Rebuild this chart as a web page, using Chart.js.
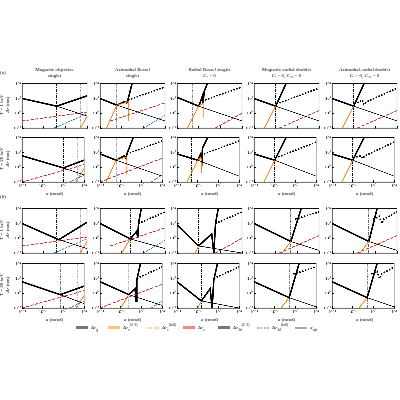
<!DOCTYPE html>
<html><head><meta charset="utf-8">
<script src="https://cdn.jsdelivr.net/npm/chart.js@4"></script>
<style>
body{margin:0;background:#fff;font-family:"Liberation Serif",serif;}
#wrap{position:relative;width:400px;height:400px;}
canvas{position:absolute;}
.t{position:absolute;font-size:5px;text-align:center;line-height:5.5px;color:#000;white-space:nowrap;}
.yl{position:absolute;font-size:5px;transform:rotate(-90deg);transform-origin:center;text-align:center;line-height:5.5px;white-space:nowrap;}
.lg{position:absolute;font-size:5px;line-height:6px;white-space:nowrap;}
.lg sub,.lg sup{font-size:3.5px;line-height:0;}
.sw{display:inline-block;width:12px;height:0;vertical-align:middle;margin-right:3px;}
</style></head><body><div id="wrap"></div>
<script>
const columnTitles=["Magnetic objective|singlet","Azimuthal Bessel|singlet","Radial Bessel singlet|C\u1D63 = 0","Magnetic–radial doublet|C\u1D63 = 0,  C\u2083\u2083 = 0","Azimuthal–radial doublet|C\u1D63 = 0,  C\u2083\u2083 = 0"];
const rowLabels=["T = 1 keV","T = 20 keV","T = 1 keV","T = 20 keV"];
const xTicks=[0.01,0.1,1,10];
const yTicks=[0.1,1,10,100];
const thick=[
 [[0.01,10],[0.4,3],[10,15]],[[0.01,10],[0.06,3.5],[0.13,6],[0.17,5],[0.19,7],[0.3,100]],[[0.01,12],[0.1,3],[0.13,8],[0.15,15],[0.16,5],[0.18,30],[0.25,100]],[[0.01,10],[0.1,3],[0.3,100]],[[0.01,10],[0.1,3],[0.3,100]],
 [[0.01,6],[1,0.9],[10,3]],[[0.01,8],[0.06,3],[0.15,6],[0.18,4],[0.2,8],[0.4,100]],[[0.01,8],[0.1,3],[0.14,8],[0.16,3],[0.17,20],[0.3,100]],[[0.01,8],[0.1,3],[0.35,100]],[[0.01,8],[0.1,3],[0.35,100]],
 [[0.01,10],[0.5,0.8],[10,12]],[[0.01,10],[0.25,0.9],[0.5,3],[0.55,1],[0.6,10],[0.8,100]],[[0.01,8],[0.1,0.3],[0.4,2],[0.5,0.1],[0.6,10],[0.8,100]],[[0.01,10],[0.5,0.6],[1.5,100]],[[0.01,10],[0.5,0.6],[1.2,100]],
 [[0.01,6],[0.7,0.8],[10,3]],[[0.01,6],[0.25,0.8],[0.5,2],[0.55,0.3],[0.6,8],[0.9,100]],[[0.01,6],[0.15,0.3],[0.4,2],[0.5,0.1],[0.6,8],[0.9,100]],[[0.01,6],[0.5,0.5],[1.5,100]],[[0.01,6],[0.5,0.5],[1.5,100]]
];
const thin=[
 [[0.4,3],[10,0.65]],[[0.06,3.5],[10,0.3]],[[0.1,3],[10,0.3]],[[0.1,3],[10,0.3]],[[0.1,3],[10,0.3]],
 [[1,0.9],[10,0.3]],[[0.06,3],[10,0.25]],[[0.1,3],[10,0.25]],[[0.1,3],[10,0.25]],[[0.1,3],[10,0.25]],
 [[0.5,0.8],[10,0.2]],[[0.25,0.9],[10,0.2]],[[0.1,0.3],[10,0.1]],[[0.5,0.6],[10,0.15]],[[0.5,0.6],[10,0.15]],
 [[0.7,0.8],[10,0.2]],[[0.25,0.8],[10,0.15]],[[0.15,0.3],[10,0.1]],[[0.5,0.5],[10,0.12]],[[0.5,0.5],[10,0.12]]
];
const orange=[
 [[5,0.1],[10,0.6]],[[0.02,0.1],[0.06,3.5],[0.2,6],[0.2,0.3]],[[0.03,0.1],[0.1,3],[0.16,5],[0.16,0.5]],[[0.03,0.1],[0.1,3]],[[0.03,0.1],[0.1,3]],
 [[4,0.1],[10,0.8]],[[0.02,0.1],[0.06,3],[0.2,5],[0.2,0.3]],[[0.03,0.1],[0.1,3],[0.15,4],[0.15,0.4]],[[0.03,0.1],[0.1,3]],[[0.03,0.1],[0.1,3]],
 [[5,0.1],[10,0.6]],[[0.1,0.1],[0.25,0.9]],[[0.07,0.1],[0.1,0.3]],[[0.2,0.1],[0.5,0.6]],[[0.2,0.1],[0.5,0.6]],
 [[4,0.1],[10,0.7]],[[0.1,0.1],[0.25,0.8]],[[0.1,0.1],[0.15,0.3]],[[0.2,0.1],[0.5,0.5]],[[0.2,0.1],[0.5,0.5]]
];
const dotted=[
 [],[[0.2,8],[10,60]],[[0.2,8],[10,60]],[[0.15,5],[10,50]],[[0.15,5],[0.25,8],[0.3,4],[0.4,6],[10,50]],
 [],[[0.2,8],[10,60]],[[0.2,8],[10,60]],[[0.15,5],[10,50]],[[0.15,5],[0.25,6],[0.3,4],[0.4,6],[10,50]],
 [],[[0.6,10],[10,60]],[[0.6,10],[10,60]],[[0.8,20],[10,60]],[[0.8,20],[1.5,30],[2,10],[2.5,20],[10,60]],
 [],[[0.6,10],[10,60]],[[0.6,10],[10,60]],[[0.8,20],[10,60]],[[0.8,20],[1.5,30],[2,10],[2.5,20],[10,60]]
];
const red=[
 [[0.01,0.3],[10,1.2]],[[0.03,0.3],[10,5]],[[0.6,0.1],[10,1]],[[0.15,0.1],[10,1.5]],[[0.15,0.1],[10,1.5]],
 [[0.01,0.1],[10,1.5]],[[0.01,0.1],[10,4]],[],[],[],
 [[0.01,0.3],[10,1.2]],[[0.03,0.3],[10,5]],[[0.6,0.1],[10,1]],[[0.15,0.1],[10,1.5]],[[0.15,0.1],[10,1.5]],
 [[0.01,0.1],[10,1.5]],[[0.01,0.1],[10,4]],[],[],[]
];
const blue=[
 [[0.3,0.1],[10,0.9]],[[1,0.1],[10,0.7]],[],[],[],
 [[2,0.1],[10,0.3]],[[3,0.1],[10,0.3]],[],[],[],
 [[0.3,0.1],[10,0.9]],[[1,0.1],[10,0.7]],[],[],[],
 [[2,0.1],[10,0.3]],[[3,0.1],[10,0.3]],[],[],[]
];
const vlineBlack=[0.4,0.06,0.05,0.1,0.1, 1,0.06,0.05,0.1,0.1, 0.4,0.25,0.1,0.5,0.5, 0.7,0.25,0.15,0.5,0.5];
const vlineGray=[5,null,null,null,null, 5,null,null,null,null, 5,null,null,null,null, 5,null,null,null,null];

const colLeft=[22,100,177,254,332], rowTop=[80,134,205,260], W=65, H=48;
const wrap=document.getElementById('wrap');
const sup={"-":"\u207B","0":"\u2070","1":"\u00B9","2":"\u00B2"};
function pw(v){const e=Math.round(Math.log10(v));return "10"+String(e).split("").map(c=>sup[c]).join("");}
function pts(a){return a.map(p=>({x:p[0],y:p[1]}));}
function add(html,cls,x,y,extra){const d=document.createElement('div');d.className=cls;d.innerHTML=html;d.style.left=x+'px';d.style.top=y+'px';if(extra)Object.assign(d.style,extra);wrap.appendChild(d);}

for(let r=0;r<4;r++)for(let c=0;c<5;c++){
 const p=r*5+c;
 const cv=document.createElement('canvas');
 cv.style.left=(colLeft[c]-20)+'px';cv.style.top=(rowTop[r]-2)+'px';
 cv.style.width=(W+23)+'px';cv.style.height=(H+14)+'px';
 wrap.appendChild(cv);
 const ds=[];
 const L=(d,col,w,dash)=>{if(d.length)ds.push({data:pts(d),borderColor:col,borderWidth:w,borderDash:dash||[],pointRadius:0,fill:false});};
 L(thin[p],'#000',0.7);
 L(red[p],'#d62728',0.9,[3,1.5]);
 L(blue[p],'#1f77b4',0.8,[2,1]);
 L(orange[p],'#ff7f0e',0.9);
 L(thick[p],'#000',1.6);
 if(dotted[p].length){L(dotted[p],'#000',1.6,[1.5,1.5]);L(dotted[p],'#ff9f40',1.2,[1.5,1.5]);}
 L([[vlineBlack[p],0.1],[vlineBlack[p],100]],'#000',0.7,[3,1,1,1]);
 if(vlineGray[p])L([[vlineGray[p],0.1],[vlineGray[p],100]],'#aaa',0.9,[3,1,1,1]);
 const showX=(r===1||r===3);
 new Chart(cv,{type:'line',data:{datasets:ds},options:{responsive:false,animation:false,devicePixelRatio:3,
  layout:{padding:{top:2,right:3,left:0,bottom:0}},
  plugins:{legend:{display:false},tooltip:{enabled:false}},
  scales:{
   x:{type:'logarithmic',min:0.01,max:10,afterFit:s=>{s.height=12;},
     grid:{display:true,drawOnChartArea:false,tickLength:-2,color:'#000'},border:{color:'#000',width:0.7},
     afterBuildTicks:s=>{s.ticks=xTicks.map(v=>({value:v}));},
     ticks:{display:showX,font:{size:4.5,family:'Liberation Serif'},color:'#000',padding:3,maxRotation:0,callback:v=>pw(v)}},
   y:{type:'logarithmic',min:0.1,max:100,afterFit:s=>{s.width=20;},
     grid:{display:true,drawOnChartArea:false,tickLength:-2,color:'#000'},border:{color:'#000',width:0.7},
     afterBuildTicks:s=>{s.ticks=yTicks.map(v=>({value:v}));},
     ticks:{display:true,font:{size:4.5,family:'Liberation Serif'},color:'#000',padding:3,callback:v=>pw(v)}}
  }},
  plugins:[{id:'box',afterDraw(ch){const a=ch.chartArea,g=ch.ctx;g.save();g.strokeStyle='#000';g.lineWidth=0.7;g.strokeRect(a.left,a.top,a.right-a.left,a.bottom-a.top);g.restore();}}]});
 if(showX) add('<i>α</i> (mrad)','t',colLeft[c]+W/2-12,rowTop[r]+H+9,{width:'24px'});
}
columnTitles.forEach((t,c)=>add(t.replace('|','<br>'),'t',colLeft[c]+W/2-30,67,{width:'60px'}));
rowLabels.forEach((t,r)=>add(t+'<br><i>Δr</i> (nm)','yl',-16,rowTop[r]+H/2-5,{width:'40px'}));
add('(a)','t',0,70);add('(b)','t',0,194);
const legend=[["Δ<i>r</i><sub>g</sub>","3px solid #777"],["Δ<i>r</i><sub>c</sub><sup>(2−3)</sup>","3px solid #ffbf80"],["Δ<i>r</i><sub>c</sub><sup>(full)</sup>","2px dotted #ffcf9f"],["Δ<i>r</i><sub>s</sub>","3px dashed #e88"],["Δ<i>r</i><sub>3d</sub><sup>(2−3)</sup>","3px solid #777"],["Δ<i>r</i><sub>3d</sub><sup>(full)</sup>","2px dotted #bbb"],["<i>α</i><sub>opt</sub>","2px dashed #aaa"]];
const lx=[76,108,147,183,218,257,295];
legend.forEach((l,i)=>add('<span class="sw" style="border-top:'+l[1]+'"></span>'+l[0],'lg',lx[i],325));
</script></body></html>
